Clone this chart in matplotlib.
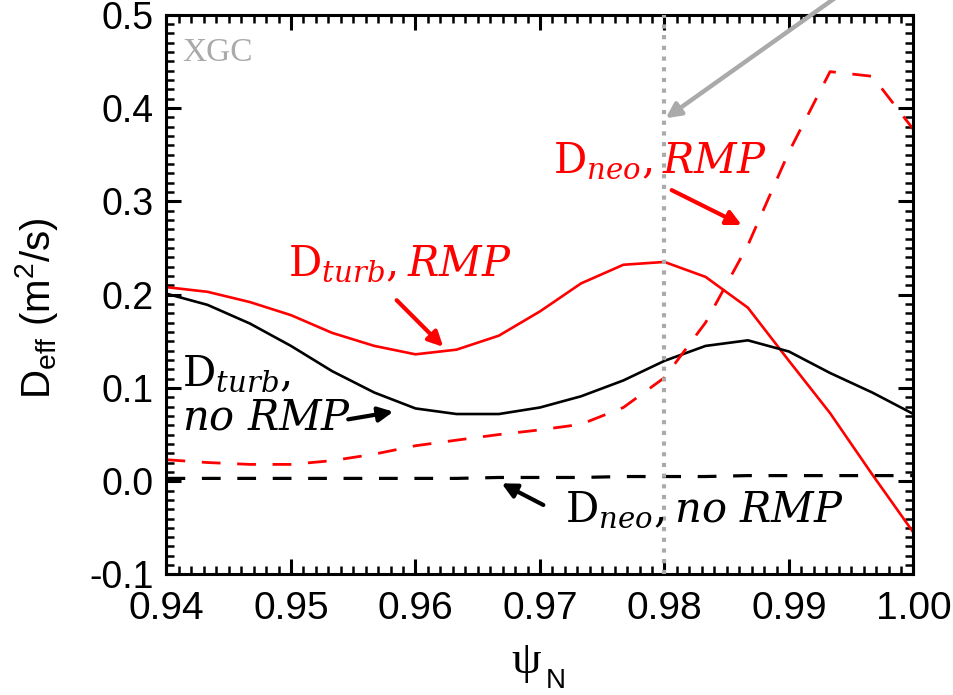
import matplotlib
matplotlib.use('Agg')
import matplotlib.pyplot as plt
from matplotlib.ticker import MultipleLocator

plt.rcParams['font.family'] = ['Liberation Sans', 'DejaVu Sans']
plt.rcParams['lines.scale_dashes'] = False

# psi_N grid and effective diffusivities (m^2/s)
psi = [0.9400, 0.9433, 0.9467, 0.9500, 0.9533, 0.9567, 0.9600, 0.9633, 0.9667, 0.9700,
       0.9733, 0.9767, 0.9800, 0.9833, 0.9867, 0.9900, 0.9933, 0.9967, 1.0000]
d_turb_rmp = [0.208, 0.203, 0.192, 0.178, 0.159, 0.145, 0.136, 0.141, 0.156, 0.182,
              0.212, 0.232, 0.235, 0.219, 0.186, 0.129, 0.073, 0.007, -0.055]
d_turb_normp = [0.201, 0.189, 0.169, 0.145, 0.118, 0.095, 0.078, 0.072, 0.072, 0.079,
                0.091, 0.108, 0.129, 0.145, 0.151, 0.139, 0.116, 0.095, 0.072]
d_neo_rmp = [0.023, 0.020, 0.018, 0.018, 0.022, 0.029, 0.038, 0.044, 0.050, 0.055,
             0.061, 0.079, 0.111, 0.170, 0.253, 0.353, 0.439, 0.434, 0.377]
d_neo_normp = [0.003, 0.003, 0.003, 0.003, 0.003, 0.003, 0.003, 0.003, 0.004, 0.004,
               0.004, 0.005, 0.005, 0.005, 0.006, 0.006, 0.006, 0.006, 0.006]

x_ticks = [0.94, 0.95, 0.96, 0.97, 0.98, 0.99, 1.00]
x_ticklabels = ['0.94', '0.95', '0.96', '0.97', '0.98', '0.99', '1.00']
y_ticks = [-0.1, 0.0, 0.1, 0.2, 0.3, 0.4, 0.5]
y_ticklabels = ['-0.1', '0.0', '0.1', '0.2', '0.3', '0.4', '0.5']
psi_mark = 0.98

fig = plt.figure(figsize=(9.54, 6.95), dpi=100)
ax = fig.add_axes([0.1745, 0.1734, 0.7830, 0.8054])

dash = (0, (13.5, 12))
ax.plot(psi, d_turb_rmp, color='red', lw=1.9)
ax.plot(psi, d_turb_normp, color='black', lw=1.9)
ax.plot(psi, d_neo_rmp, color='red', lw=2.0, ls=dash)
ax.plot(psi, d_neo_normp, color='black', lw=2.3, ls=dash)
ax.axvline(psi_mark, color='#aaaaaa', lw=3, ls=(0, (3, 4.7)), dash_capstyle='butt', zorder=3)

ax.set_xlim(0.94, 1.0)
ax.set_ylim(-0.1, 0.5)
ax.set_xticks(x_ticks)
ax.set_xticklabels(x_ticklabels)
ax.set_yticks(y_ticks)
ax.set_yticklabels(y_ticklabels)
ax.xaxis.set_minor_locator(MultipleLocator(0.001))
ax.yaxis.set_minor_locator(MultipleLocator(0.01))
ax.tick_params(which='both', direction='in', top=True, right=True)
ax.tick_params(which='major', length=11, width=2.2)
ax.tick_params(which='minor', length=5.5, width=1.8)
ax.tick_params(axis='x', which='major', labelsize=28, pad=12)
ax.tick_params(axis='y', which='major', labelsize=27, pad=9)
for s in ax.spines.values():
    s.set_linewidth(2.2)

fig.text(0.038, 0.557, r'D$_\mathregular{eff}$ (m$^\mathregular{2}$/s)', rotation=90,
         ha='center', va='center', fontsize=29)
fig.text(0.5519, 0.031, 'ψ', family='Liberation Serif', ha='center', va='baseline', fontsize=34)
fig.text(0.572, 0.0105, 'N', ha='left', va='baseline', fontsize=20)

ax.text(0.9413, 0.4504, 'XGC', family='Liberation Serif', color='#aaaaaa', fontsize=24)

ann = dict(math_fontfamily='dejavuserif', fontsize=30, ha='left', va='baseline')
ax.text(0.94976, 0.221, r'$\mathrm{D}_{turb}, RMP$', color='red', **ann)
ax.text(0.94122, 0.103, r'$\mathrm{D}_{turb},$', color='black', **ann)
ax.text(0.94122, 0.055, r'$no\ RMP$', color='black', **ann)
ax.text(0.97105, 0.3314, r'$\mathrm{D}_{neo}, RMP$', color='red', **ann)
ax.text(0.97201, -0.0434, r'$\mathrm{D}_{neo}, no\ RMP$', color='black', **ann)

def arrow(tail, head, color, lw=3):
    ax.annotate('', xy=head, xytext=tail,
                arrowprops=dict(arrowstyle='-|>', color=color, lw=lw,
                                mutation_scale=22, shrinkA=0, shrinkB=0),
                annotation_clip=False)

arrow((0.95849, 0.194), (0.96223, 0.144), 'red')
arrow((0.9546, 0.0663), (0.95822, 0.0745), 'black')
arrow((0.98058, 0.312), (0.9862, 0.2746), 'red')
arrow((0.97027, -0.0255), (0.96692, -0.0023), 'black')
arrow((0.9955, 0.535), (0.9801, 0.389), '#aaaaaa', lw=3.2)

fig.savefig('out.png', dpi=100)
